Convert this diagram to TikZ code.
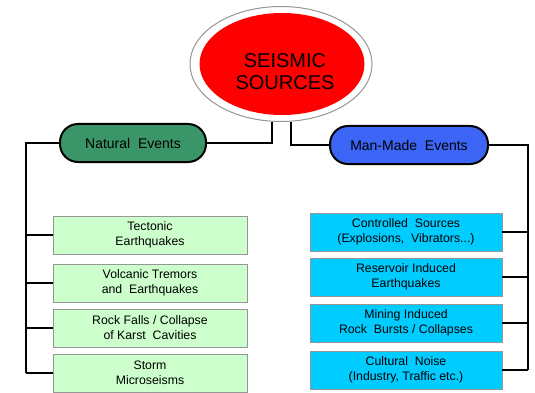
\documentclass[tikz,border=0pt]{standalone}
\usepackage{fontspec}
\setmainfont{Liberation Sans}
\usetikzlibrary{positioning,calc,shapes.geometric}
\definecolor{natgreen}{RGB}{58,150,104}
\definecolor{manblue}{RGB}{60,100,245}
\definecolor{leafgreen}{RGB}{204,255,204}
\definecolor{leafcyan}{RGB}{0,204,255}
\definecolor{rimgray}{RGB}{150,150,150}
\tikzset{
eventpill/.style={draw=black, line width=2pt, rounded corners=18pt, minimum width=146pt, minimum height=38pt, inner sep=0pt, font=\fontsize{14}{16}\selectfont},
leafbox/.style={draw=rimgray, line width=0.8pt, align=center, inner sep=0pt, minimum height=38pt, font=\fontsize{12.3}{14.8}\selectfont},
linkline/.style={line width=1.8pt, black}
}
\begin{document}
\begin{tikzpicture}[x=1pt,y=-1pt]
\useasboundingbox (0,0) rectangle (535,393);
\node[ellipse, draw=rimgray, fill=white, line width=1pt, minimum width=182pt, minimum height=115pt] (rim) at (281,64) {};
\node[ellipse, fill=red, minimum width=165pt, minimum height=102pt] (core) at (282,64) {};
\node[align=center, font=\fontsize{20}{22}\selectfont, inner sep=0pt] (title) at (285,72) {SEISMIC\\SOURCES};

\node[eventpill, fill=natgreen] (natural) at (133,143) {Natural\ \ Events};
\node[eventpill, fill=manblue, minimum width=158pt] (manmade) at (409,145) {Man-Made\ \ Events};

\node[leafbox, fill=leafgreen, minimum width=194pt] (tect) at (150,235) {Tectonic\\Earthquakes};
\node[leafbox, fill=leafgreen, minimum width=194pt] (volc) at (150,283) {Volcanic Tremors\\and\ \ Earthquakes};
\node[leafbox, fill=leafgreen, minimum width=194pt] (karst) at (150,328) {Rock Falls / Collapse\\of Karst\ \ Cavities};
\node[leafbox, fill=leafgreen, minimum width=194pt] (storm) at (150,373) {Storm\\Microseisms};

\node[leafbox, fill=leafcyan, minimum width=192pt] (ctrl) at (406,232) {Controlled\ \ Sources\\(Explosions,\ \ Vibrators...)};
\node[leafbox, fill=leafcyan, minimum width=192pt] (resv) at (406,277) {Reservoir Induced\\Earthquakes};
\node[leafbox, fill=leafcyan, minimum width=192pt] (mine) at (406,323) {Mining Induced\\Rock\ \ Bursts / Collapses};
\node[leafbox, fill=leafcyan, minimum width=192pt] (noise) at (406,370) {Cultural\ \ Noise\\(Industry, Traffic etc.)};

\coordinate (lbus) at (26,0);
\coordinate (rbus) at (528,0);

\draw[linkline] (natural.east) -| ([xshift=-9pt]rim.south);
\draw[linkline] (manmade.west) -| ([xshift=10pt]rim.south);
\draw[linkline] (natural.west) -| (lbus |- storm.west);
\draw[linkline] (manmade.east) -| (rbus |- noise.east);
\foreach \leaf in {tect,volc,karst,storm}
  \draw[linkline] (lbus |- \leaf.west) -- (\leaf.west);
\foreach \leaf in {ctrl,resv,mine,noise}
  \draw[linkline] (\leaf.east) -- (rbus |- \leaf.east);
\end{tikzpicture}
\end{document}
